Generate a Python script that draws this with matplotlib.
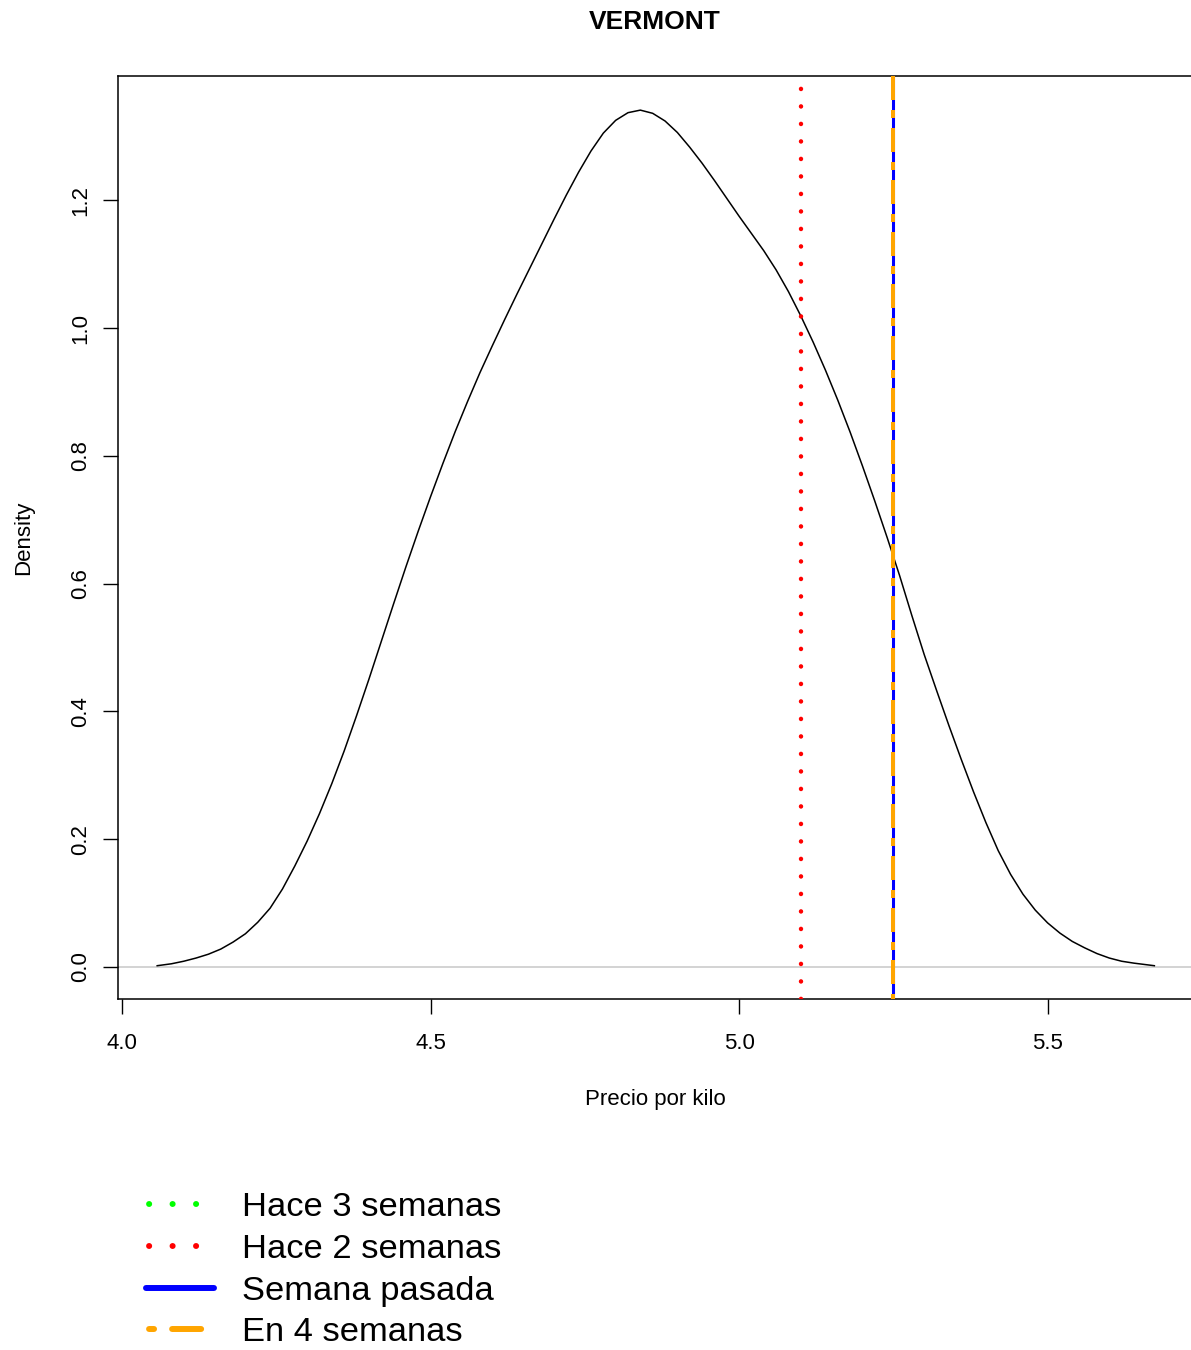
"""Density of price per kilo (VERMONT) with reference weeks marked."""

import matplotlib
matplotlib.use("Agg")
import matplotlib.pyplot as plt
from matplotlib.lines import Line2D

plt.rcParams["font.family"] = ["Liberation Sans", "DejaVu Sans"]
plt.rcParams["lines.scale_dashes"] = False

# density curve
precio = [4.057, 4.08, 4.10, 4.12, 4.14, 4.16, 4.18, 4.20, 4.22, 4.24,
          4.26, 4.28, 4.30, 4.32, 4.34, 4.36, 4.38, 4.40, 4.42, 4.44,
          4.46, 4.48, 4.50, 4.52, 4.54, 4.56, 4.58, 4.60, 4.62, 4.64,
          4.66, 4.68, 4.70, 4.72, 4.74, 4.76, 4.78, 4.80, 4.82, 4.84,
          4.86, 4.88, 4.90, 4.92, 4.94, 4.96, 4.98, 5.00, 5.02, 5.04,
          5.06, 5.08, 5.10, 5.12, 5.14, 5.16, 5.18, 5.20, 5.22, 5.24,
          5.26, 5.28, 5.30, 5.32, 5.34, 5.36, 5.38, 5.40, 5.42, 5.44,
          5.46, 5.48, 5.50, 5.52, 5.54, 5.56, 5.58, 5.60, 5.62, 5.64,
          5.673]
densidad = [0.002, 0.005, 0.009, 0.014, 0.020, 0.028, 0.039, 0.052, 0.070, 0.092,
            0.122, 0.158, 0.197, 0.240, 0.287, 0.338, 0.393, 0.450, 0.509, 0.568,
            0.626, 0.682, 0.736, 0.788, 0.838, 0.885, 0.930, 0.972, 1.013, 1.053,
            1.092, 1.131, 1.170, 1.208, 1.244, 1.277, 1.305, 1.325, 1.337, 1.341,
            1.336, 1.324, 1.306, 1.283, 1.258, 1.231, 1.203, 1.175, 1.148, 1.121,
            1.091, 1.057, 1.019, 0.978, 0.934, 0.887, 0.837, 0.784, 0.729, 0.672,
            0.613, 0.550, 0.489, 0.433, 0.378, 0.325, 0.274, 0.226, 0.182, 0.145,
            0.114, 0.089, 0.069, 0.053, 0.040, 0.030, 0.021, 0.014, 0.009, 0.006,
            0.002]

# reference prices
semanas = ["Hace 3 semanas", "Hace 2 semanas", "Semana pasada", "En 4 semanas"]
valores = [5.25, 5.10, 5.25, 5.25]
colores = ["#00ff00", "#ff0000", "#0000ff", "#ffa500"]

x_ticks = [4.0, 4.5, 5.0, 5.5]
y_ticks = [0.0, 0.2, 0.4, 0.6, 0.8, 1.0, 1.2]

W, H = 1191, 1350
fig = plt.figure(figsize=(W / 100, H / 100), dpi=100)
ax = fig.add_axes([118 / W, 1 - 999 / H, (1192 - 118) / W, (999 - 76) / H])

ax.axhline(0, color="#c8c8c8", lw=1.1, zorder=1)
ax.plot(precio, densidad, color="black", lw=1.1, zorder=3)

# line styles in the plot (points)
estilos = [
    dict(lw=2.2, linestyle=(0, (0.1, 12.5)), dash_capstyle="round"),
    dict(lw=3.2, linestyle=(0, (0.1, 12.5)), dash_capstyle="round"),
    dict(lw=2.2, linestyle="-"),
    dict(lw=2.9, linestyle=(2.16, (5.76, 7.2, 17.28, 7.2)), dash_capstyle="butt"),
]
for v, c, st in zip(valores, colores, estilos):
    ax.axvline(v, color=c, zorder=4, **st)

ax.set_xlim(3.9935, 5.734)
ax.set_ylim(-0.0501, 1.3944)
ax.set_xticks(x_ticks)
ax.set_xticklabels([f"{t:.1f}" for t in x_ticks])
ax.set_yticks(y_ticks)
ax.set_yticklabels([f"{t:.1f}" for t in y_ticks], rotation=90, va="center")
ax.tick_params(axis="both", length=10.5, width=1.0, labelsize=16, direction="out")
ax.tick_params(axis="x", pad=14)
ax.tick_params(axis="y", pad=9)
for sp in ax.spines.values():
    sp.set_linewidth(1.1)

ax.set_xlabel("Precio por kilo", fontsize=16, labelpad=25)
ax.set_ylabel("Density", fontsize=16, labelpad=26)
ax.set_title("VERMONT", fontsize=19, fontweight="bold", pad=34)

# legend handles are drawn thicker than the plot lines
handles = [
    Line2D([], [], color=colores[0], lw=4.3, linestyle=(14.7, (0.1, 16.8)), dash_capstyle="round"),
    Line2D([], [], color=colores[1], lw=4.3, linestyle=(14.7, (0.1, 16.8)), dash_capstyle="round"),
    Line2D([], [], color=colores[2], lw=4.3, solid_capstyle="round"),
    Line2D([], [], color=colores[3], lw=4.3, linestyle=(48.3, (3.6, 13.0, 20.9, 13.0)), dash_capstyle="round"),
]
fig.legend(handles, semanas, loc="upper left", bbox_to_anchor=(146 / W, 1 - 1192 / H),
           frameon=False, fontsize=24.8, borderpad=0, borderaxespad=0,
           handlelength=1.98, handletextpad=0.8, labelspacing=0.31)

fig.savefig("out.png", dpi=100)
